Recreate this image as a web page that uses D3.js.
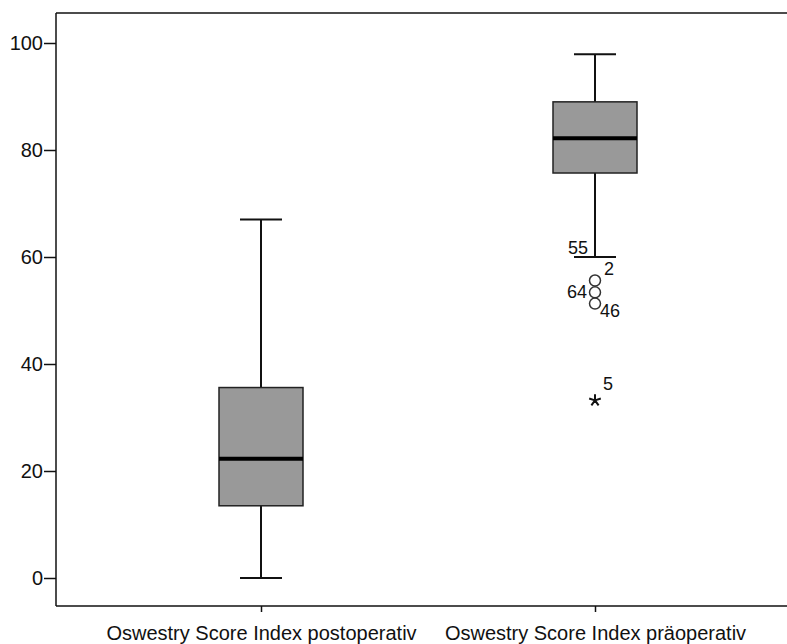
<!DOCTYPE html>
<html>
<head>
<meta charset="utf-8">
<script src="https://cdn.jsdelivr.net/npm/d3@7"></script>
<style>
  body { margin: 0; background: #fff; }
  text { font-family: "Liberation Sans", Arial, sans-serif; fill: #111; }
</style>
</head>
<body>
<script>
// box plot data
var categories = ["Oswestry Score Index postoperativ", "Oswestry Score Index präoperativ"];
var whiskerLow = [0, 60];
var q1 = [13.5, 75.7];
var median = [22.3, 82.2];
var q3 = [35.6, 89];
var whiskerHigh = [67, 97.9];
var yTicks = [0, 20, 40, 60, 80, 100];

// outliers of the second box (case numbers)
var outlierIds = ["55", "2", "64", "46"];
var outlierValues = [60, 55.6, 53.4, 51.3];
var extremeIds = ["5"];
var extremeValues = [33.2];

var width = 787, height = 644;
var margin = {top: 13, right: 0, bottom: 38, left: 56};

var svg = d3.select("body")
  .append("svg")
    .attr("width", width)
    .attr("height", height);

var y = d3.scaleLinear()
  .domain([0, 100])
  .range([578, 43]);

var x = d3.scalePoint()
  .domain(categories)
  .range([261, 595]);

var bottom = height - margin.bottom;
var boxW = 84, capW = 42;

// frame: top and left lines
svg.append("line")
  .attr("x1", margin.left).attr("x2", width)
  .attr("y1", margin.top).attr("y2", margin.top)
  .attr("stroke", "#111").attr("stroke-width", 1.5);

// y axis
var yAxis = svg.append("g")
  .attr("transform", "translate(" + margin.left + ",0)")
  .call(d3.axisLeft(y).tickValues(yTicks).tickSize(12).tickPadding(1));
yAxis.select(".domain").attr("d", "M0," + margin.top + "V" + bottom).attr("stroke", "#111").attr("stroke-width", 1.5);
yAxis.selectAll(".tick line").attr("stroke", "#111").attr("stroke-width", 1.5);
yAxis.selectAll(".tick text").attr("font-size", 20).attr("font-family", "Liberation Sans, Arial, sans-serif").attr("fill", "#111");

// x axis
var xAxis = svg.append("g")
  .attr("transform", "translate(0," + bottom + ")")
  .call(d3.axisBottom(x).tickSize(6).tickPadding(14));
xAxis.select(".domain").attr("d", "M" + margin.left + ",0H" + width).attr("stroke", "#111").attr("stroke-width", 1.5);
xAxis.selectAll(".tick line").attr("stroke", "#111").attr("stroke-width", 1.5);
xAxis.selectAll(".tick text").attr("font-size", 20).attr("font-family", "Liberation Sans, Arial, sans-serif").attr("fill", "#111");

var boxes = categories.map(function(c, i) {
  return {name: c, lo: whiskerLow[i], q1: q1[i], med: median[i], q3: q3[i], hi: whiskerHigh[i]};
});

var g = svg.selectAll(".box")
  .data(boxes)
  .enter()
  .append("g")
    .attr("class", "box");

// whiskers
g.append("line")
  .attr("x1", function(d) { return x(d.name); })
  .attr("x2", function(d) { return x(d.name); })
  .attr("y1", function(d) { return y(d.hi); })
  .attr("y2", function(d) { return y(d.lo); })
  .attr("stroke", "#111").attr("stroke-width", 2);

g.selectAll(".cap")
  .data(function(d) { return [{name: d.name, v: d.hi}, {name: d.name, v: d.lo}]; })
  .enter()
  .append("line")
    .attr("x1", function(d) { return x(d.name) - capW / 2; })
    .attr("x2", function(d) { return x(d.name) + capW / 2; })
    .attr("y1", function(d) { return y(d.v); })
    .attr("y2", function(d) { return y(d.v); })
    .attr("stroke", "#111").attr("stroke-width", 2);

// box
g.append("rect")
  .attr("x", function(d) { return x(d.name) - boxW / 2; })
  .attr("width", boxW)
  .attr("y", function(d) { return y(d.q3); })
  .attr("height", function(d) { return y(d.q1) - y(d.q3); })
  .attr("fill", "#999999")
  .attr("stroke", "#222").attr("stroke-width", 1.5);

// median
g.append("line")
  .attr("x1", function(d) { return x(d.name) - boxW / 2; })
  .attr("x2", function(d) { return x(d.name) + boxW / 2; })
  .attr("y1", function(d) { return y(d.med); })
  .attr("y2", function(d) { return y(d.med); })
  .attr("stroke", "#000").attr("stroke-width", 4);

// outliers (second box)
var cx = x(categories[1]);
var labelPos = {
  "55": {dx: -7, dy: -3, anchor: "end", circle: false},
  "2": {dx: 9, dy: -6, anchor: "start", circle: true},
  "64": {dx: -8, dy: 6, anchor: "end", circle: true},
  "46": {dx: 5, dy: 13, anchor: "start", circle: true}
};

var outs = outlierIds.map(function(id, i) { return {id: id, v: outlierValues[i]}; });

svg.selectAll(".outlier")
  .data(outs.filter(function(d) { return labelPos[d.id].circle; }))
  .enter()
  .append("circle")
    .attr("cx", cx)
    .attr("cy", function(d) { return y(d.v); })
    .attr("r", 5.5)
    .attr("fill", "none")
    .attr("stroke", "#333").attr("stroke-width", 1.5);

svg.selectAll(".outlabel")
  .data(outs)
  .enter()
  .append("text")
    .attr("x", function(d) { return cx + labelPos[d.id].dx; })
    .attr("y", function(d) { return y(d.v) + labelPos[d.id].dy; })
    .attr("text-anchor", function(d) { return labelPos[d.id].anchor; })
    .attr("font-size", 18)
    .text(function(d) { return d.id; });

// extreme value star
var star = {
  draw: function(ctx, size) {
    var r = Math.sqrt(size) / 2;
    for (var k = 0; k < 5; k++) {
      var a = -Math.PI / 2 + k * 2 * Math.PI / 5;
      ctx.moveTo(0, 0);
      ctx.lineTo(r * Math.cos(a), r * Math.sin(a));
    }
  }
};

var ext = extremeIds.map(function(id, i) { return {id: id, v: extremeValues[i]}; });

svg.selectAll(".extreme")
  .data(ext)
  .enter()
  .append("path")
    .attr("transform", function(d) { return "translate(" + cx + "," + y(d.v) + ")"; })
    .attr("d", d3.symbol().type(star).size(150))
    .attr("stroke", "#111").attr("stroke-width", 2).attr("fill", "none");

svg.selectAll(".extlabel")
  .data(ext)
  .enter()
  .append("text")
    .attr("x", cx + 8)
    .attr("y", function(d) { return y(d.v) - 10; })
    .attr("font-size", 18)
    .text(function(d) { return d.id; });
</script>
</body>
</html>
